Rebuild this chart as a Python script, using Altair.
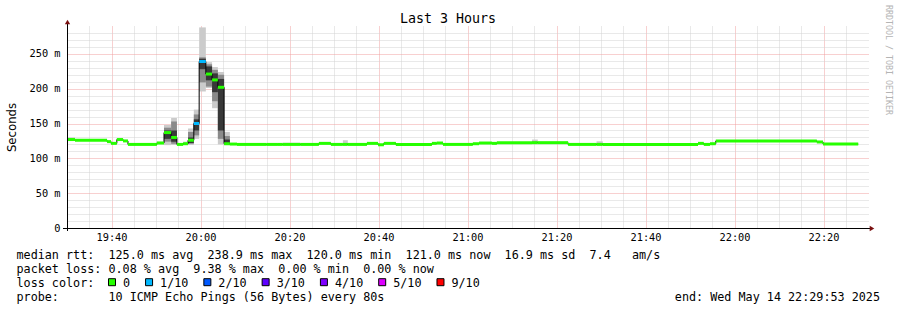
import altair as alt
import pandas as pd

# ---------------- data ----------------
# step start times, minutes after 19:30 (axis runs 19:30 -> 22:30)
seg_start = [0.0, 1.8, 9.0, 9.9, 11.2, 12.6, 13.7, 20.2, 21.8, 23.4, 24.7, 26.1, 27.2,
             28.5, 29.7, 31.2, 32.6, 33.9, 35.3, 36.6, 38.2, 44.9, 47.2, 48.5, 52.4,
             56.6, 59.3, 62.0, 63.1, 67.4, 69.9, 71.2, 73.9, 82.0, 83.1, 84.5, 91.2,
             92.6, 95.5, 96.6, 104.5, 105.8, 112.6, 119.0, 120.4, 141.8, 143.1, 144.5,
             145.8, 168.5, 169.9]
seg_end_last = 177.8
median_ms = [127, 126, 124, 121.5, 127, 125, 120, 122, 137, 130, 120, 121, 126,
             150, 239, 221, 212.6, 202, 121, 120.5, 120, 120, 120, 120, 120,
             121.5, 120, 120, 120, 121.5, 119.5, 121.5, 120, 121.5, 122, 120, 121,
             122, 121.5, 122.5, 122.5, 122.5, 120, 120, 120, 121.5, 120, 121,
             125, 123.5, 120.5]
seg_loss = ["0"] * 13 + ["1/10", "1/10"] + ["0"] * 36

# smoke (spread of the 10 pings) for some steps, by step index
smoke_idx = [0, 7, 8, 9, 11, 12, 13, 14, 15, 16, 17, 18, 19, 21, 23, 27, 31, 40, 43]
smoke_min = [126, 121, 119, 119, 119.5, 119, 128, 196, 201, 172, 120, 119, 119.5, 119.5, 119.5, 119.5, 120.5, 121.5, 119.5]
smoke_max = [130, 124, 148, 158, 124, 143, 170, 288, 238, 231, 224, 138, 122, 121.8, 122.5, 126, 123, 127, 124.5]
mid_lo = [126, 121.5, 124, 121, 120, 121, 133, 209, 203, 182, 128, 120, 120, 120, 120, 120, 121, 122, 120]
mid_hi = [128, 123, 144, 153, 122, 138, 163, 245, 235, 227, 220, 132, 121, 121, 121, 122, 122, 124, 122]
core_lo = [126.5, 121.5, 128, 124, 120.5, 122, 140, 228, 212, 195, 140, 120, 120, 120, 120, 120, 121, 122, 120]
core_hi = [127.5, 122.5, 140, 140, 121.5, 130, 156, 243, 232, 222, 214, 127, 121, 120.5, 120.5, 121, 122, 123, 121]

loss_labels = ["0", "1/10", "2/10", "3/10", "4/10", "5/10", "9/10"]
loss_colors = ["#26ff00", "#00b8ff", "#0059ff", "#5e00ff", "#7e00ff", "#dd00ff", "#ff0000"]

title_text = "Last 3 Hours"
line_rtt = "median rtt:  125.0 ms avg  238.9 ms max  120.0 ms min  121.0 ms now  16.9 ms sd  7.4   am/s"
line_loss = "packet loss: 0.08 % avg  9.38 % max  0.00 % min  0.00 % now"
line_color = "loss color:"
line_probe = "probe:       10 ICMP Echo Pings (56 Bytes) every 80s"
end_text = "end: Wed May 14 22:29:53 2025"
side_text = "RRDTOOL / TOBI OETIKER"

# ---------------- tables ----------------
seg_end = seg_start[1:] + [seg_end_last]
segs = pd.DataFrame({"t0": seg_start, "t1": seg_end, "v": median_ms, "loss": seg_loss})
line_df = pd.DataFrame({"t0": seg_start + [seg_end_last], "v": median_ms + [median_ms[-1]]})
smoke = pd.DataFrame({
    "t0": [seg_start[i] for i in smoke_idx],
    "t1": [seg_end[i] for i in smoke_idx],
    "lo": smoke_min, "hi": smoke_max,
    "mlo": mid_lo, "mhi": mid_hi,
    "clo": core_lo, "chi": core_hi,
})
one = pd.DataFrame({"a": [0]})

W, H = 801, 202
MONO = "DejaVu Sans Mono"

xs = alt.Scale(domain=[0, 180], nice=False, zero=False)
ys = alt.Scale(domain=[0, 290], nice=False, zero=True)

x_axis = alt.Axis(
    values=list(range(0, 180, 5)), title=None, domain=False, ticks=False,
    labelExpr="((datum.value - 10) % 20 === 0) ? (floor((1170 + datum.value) / 60) + ':' + "
              "((((1170 + datum.value) % 60) < 10) ? '0' : '') + ((1170 + datum.value) % 60)) : ''",
    labelFont=MONO, labelFontSize=10.3, labelColor="black", labelPadding=4,
    labelOverlap=False, labelFlush=False,
    grid=True, gridDash=[1, 1], gridWidth=1,
    gridColor={"condition": {"test": "(datum.value - 10) % 20 === 0", "value": "#f0a0a0"},
               "value": "#d2d2d2"},
)
y_axis = alt.Axis(
    values=list(range(0, 290, 10)), title="Seconds", domain=False, ticks=False,
    labelExpr="datum.value % 50 === 0 ? (datum.value === 0 ? '0' : datum.value + ' m') : ''",
    labelFont=MONO, labelFontSize=10.3, labelColor="black", labelPadding=7,
    labelOverlap=False, labelFlush=False,
    grid=True, gridDash=[1, 1], gridWidth=1,
    gridColor={"condition": {"test": "datum.value % 50 === 0", "value": "#f0a0a0"},
               "value": "#d2d2d2"},
    titleFont="DejaVu Sans", titleFontSize=11.7, titleFontWeight="normal", titleColor="black",
    titleAngle=270, titleX=-56, titleY=H / 2, titleAlign="center", titleBaseline="middle",
)


def X(f):
    return alt.X(f, type="quantitative", scale=xs, axis=x_axis)


def Y(f):
    return alt.Y(f, type="quantitative", scale=ys, axis=y_axis)


layers = []
for lo, hi, col in [("lo", "hi", "#cbcbcb"), ("mlo", "mhi", "#8a8a8a"), ("clo", "chi", "#383838")]:
    layers.append(alt.Chart(smoke).mark_rect(color=col, opacity=1).encode(
        x=X("t0"), x2="t1", y=Y(lo), y2=hi))

layers.append(alt.Chart(line_df).mark_line(interpolate="step-after", color="black",
                                           strokeWidth=1).encode(x=X("t0"), y=Y("v")))
layers.append(alt.Chart(segs).mark_rule(strokeWidth=3, strokeCap="butt").encode(
    x=X("t0"), x2="t1", y=Y("v"),
    color=alt.Color("loss:N", scale=alt.Scale(domain=loss_labels, range=loss_colors), legend=None)))

# axis lines and arrows
layers.append(alt.Chart(one).mark_rule(color="black", strokeWidth=1).encode(
    x=alt.value(0.5), y=alt.value(-4), y2=alt.value(H + 3)))
layers.append(alt.Chart(one).mark_rule(color="black", strokeWidth=1).encode(
    x=alt.value(-4), x2=alt.value(W + 3), y=alt.value(H + 0.5)))
layers.append(alt.Chart(one).mark_point(shape="triangle-up", filled=True, size=28, color="#7a1010",
                                        opacity=1).encode(x=alt.value(0.5), y=alt.value(-4)))
layers.append(alt.Chart(one).mark_point(shape="triangle-right", filled=True, size=28, color="#7a1010",
                                        opacity=1).encode(x=alt.value(W + 4), y=alt.value(H + 0.5)))

NB = "\u00a0"


def txt(s, x, y, size=11.75, align="left", baseline="alphabetic", color="black", font=MONO, angle=0):
    kw = dict(text=s.replace(" ", NB), align=align, baseline=baseline, fontSize=size,
              font=font, color=color)
    if angle:
        kw["angle"] = angle
    return alt.Chart(one).mark_text(**kw).encode(x=alt.value(x), y=alt.value(y))


# title and side note
layers.append(txt(title_text, 381, -7, size=13.3, align="center", baseline="middle"))
layers.append(txt(side_text, 821, 34, size=8.3, align="center", baseline="middle",
                  color="#b4b4b4", angle=90))

# legend text block
LX = -50.5
rows = [232.5, 246.5, 260.5, 274.5]
layers.append(txt(line_rtt, LX, rows[0]))
layers.append(txt(line_loss, LX, rows[1]))
layers.append(txt(line_color, LX, rows[2]))
layers.append(txt(line_probe, LX, rows[3]))
layers.append(txt(end_text, 813, rows[3], align="right"))

char_w = 7.07
cur = 41.0
for lab, col in zip(loss_labels, loss_colors):
    layers.append(alt.Chart(one).mark_square(size=49, fill=col, stroke="black", strokeWidth=1,
                                             opacity=1, filled=True).encode(
        x=alt.value(cur + 4), y=alt.value(rows[2] - 4.3)))
    layers.append(txt(lab, cur + 15, rows[2]))
    cur += 15 + len(lab) * char_w + 15

chart = alt.layer(*layers).properties(
    width=W, height=H,
    padding={"left": 67, "top": 26, "right": 29, "bottom": 82},
    autosize=alt.AutoSizeParams(type="none"),
    background="white",
).configure_view(strokeWidth=0)

chart.save("out.html", embed_options={"renderer": "svg", "actions": False})
